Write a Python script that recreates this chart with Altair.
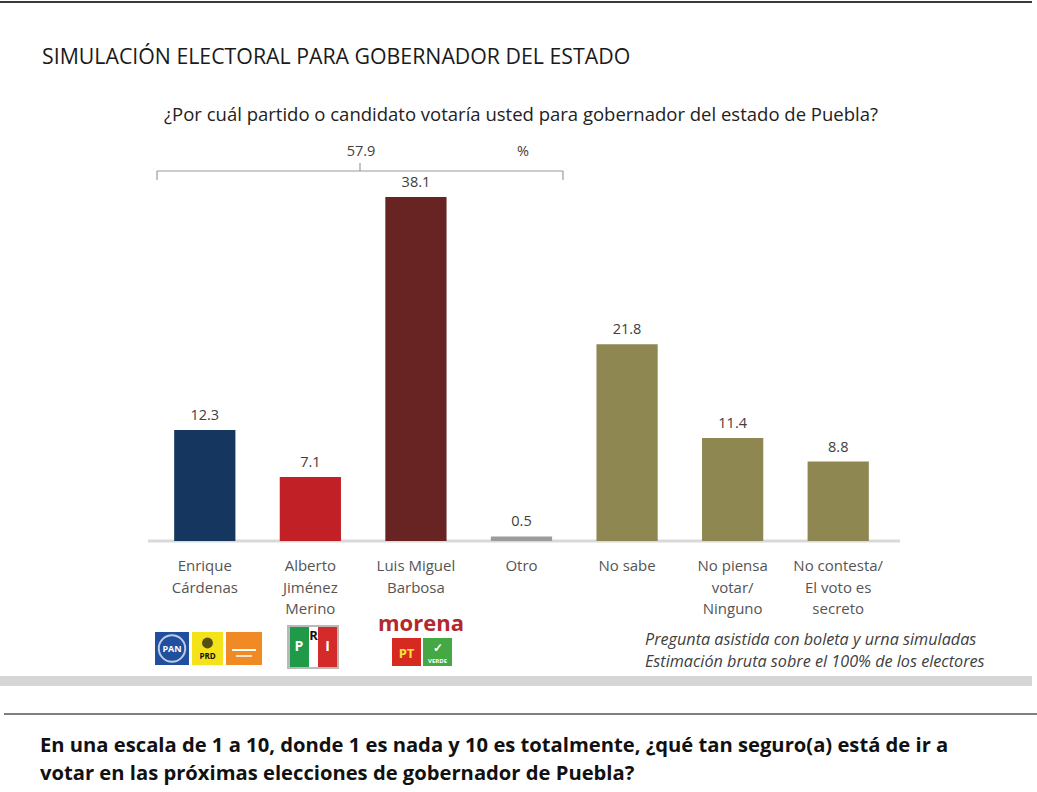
import altair as alt
import pandas as pd

# Vote intention for governor of Puebla (%)
categories = [
    "Enrique\nCárdenas",
    "Alberto\nJiménez\nMerino",
    "Luis Miguel\nBarbosa",
    "Otro",
    "No sabe",
    "No piensa\nvotar/\nNinguno",
    "No contesta/\nEl voto es\nsecreto",
]
values = [12.3, 7.1, 38.1, 0.5, 21.8, 11.4, 8.8]
bar_colors = ["#14365f", "#c12126", "#682323", "#9c9c9c", "#8e8751", "#8e8751", "#8e8751"]

bracket_total = "57.9"
title = "SIMULACIÓN ELECTORAL PARA GOBERNADOR DEL ESTADO"
question = "¿Por cuál partido o candidato votaría usted para gobernador del estado de Puebla?"
notes = ["Pregunta asistida con boleta y urna simuladas",
         "Estimación bruta sobre el 100% de los electores"]
next_question = ["En una escala de 1 a 10, donde 1 es nada y 10 es totalmente, ¿qué tan seguro(a) está de ir a",
                 "votar en las próximas elecciones de gobernador de Puebla?"]

FONT = "Open Sans"
W, H = 1037, 792

df = pd.DataFrame({"cat": categories, "val": values, "color": bar_colors})
one = pd.DataFrame({"k": [0]})

x_enc = alt.X("cat:N", sort=categories, axis=None,
              scale=alt.Scale(range=[152, 891], paddingInner=0.42, paddingOuter=0.21))
y_scale = alt.Scale(domain=[0, 40], range=[541, 541 - 40 * 9.03])

base = alt.Chart(df)

bars = base.mark_bar().encode(
    x=x_enc,
    y=alt.Y("val:Q", scale=y_scale, axis=None),
    color=alt.Color("color:N", scale=None),
)

value_labels = base.mark_text(font=FONT, fontSize=14.5, color="#404040", baseline="bottom", dy=-7).encode(
    x=x_enc,
    y=alt.Y("val:Q", scale=y_scale),
    text=alt.Text("val:Q", format=".1f"),
)

cat_labels = base.mark_text(font=FONT, fontSize=15, color="#555555", baseline="top",
                            lineBreak="\n", lineHeight=21.5).encode(
    x=x_enc,
    y=alt.value(559),
    text="cat:N",
)


def rule(x1, x2, y1, y2, color, width):
    return alt.Chart(one).mark_rule(color=color, strokeWidth=width).encode(
        x=alt.value(x1), x2=alt.value(x2), y=alt.value(y1), y2=alt.value(y2))


def rect(x1, x2, y1, y2, color, **kw):
    return alt.Chart(one).mark_rect(color=color, **kw).encode(
        x=alt.value(x1), x2=alt.value(x2), y=alt.value(y1), y2=alt.value(y2))


def label(txt, x, y, size, color="#222222", align="left", weight="normal", style="normal", font=FONT):
    return alt.Chart(one).mark_text(font=font, fontSize=size, color=color, align=align,
                                    baseline="middle", fontWeight=weight, fontStyle=style).encode(
        x=alt.value(x), y=alt.value(y), text=alt.value(txt))


layers = [
    # frame lines and separators
    rule(0, 1032, 2, 2, "#3a3a3a", 2),
    rect(0, 1032, 676, 686, "#d6d6d6"),
    rule(4, 1037, 714, 714, "#555555", 1.5),
    # baseline
    rule(148, 900, 541, 541, "#d9d9d9", 3),
    # headings
    label(title, 42, 58, 21.3, "#1a1a1a"),
    label(question, 521, 115, 18.5, "#222222", align="center"),
    # bracket over candidates
    rule(157, 563, 171, 171, "#9a9a9a", 1.2),
    rule(157, 157, 171, 180, "#9a9a9a", 1.2),
    rule(563, 563, 171, 180, "#9a9a9a", 1.2),
    rule(360, 360, 163, 171, "#9a9a9a", 1.2),
    label(bracket_total, 361, 152, 14.5, "#404040", align="center"),
    label("%", 523, 152, 14.5, "#404040", align="center"),
    bars, value_labels, cat_labels,
    # party emblems: PAN, PRD, MC
    rect(155, 189, 632, 665, "#1f4f9e"),
    alt.Chart(one).mark_point(shape="circle", size=700, stroke="white", strokeWidth=2, filled=False).encode(
        x=alt.value(172), y=alt.value(648.5)),
    label("PAN", 172, 649, 9, "white", align="center", weight="bold"),
    rect(192, 223, 632, 665, "#f4e21b"),
    alt.Chart(one).mark_point(shape="circle", size=120, color="#111111", filled=True).encode(
        x=alt.value(207.5), y=alt.value(643)),
    label("PRD", 207.5, 657, 8, "#111111", align="center", weight="bold"),
    rect(226, 262, 632, 665, "#f08a24"),
    rule(232, 256, 650, 650, "white", 2),
    rule(236, 252, 656, 656, "white", 1.5),
    # PRI
    rect(287, 339, 625, 669, "#b9b9b9"),
    rect(290, 309, 627, 667, "#1e9a48"),
    rect(309, 318, 627, 667, "white"),
    rect(318, 337, 627, 667, "#d42a2a"),
    label("P", 299, 647, 14, "white", align="center", weight="bold"),
    label("R", 313.5, 636, 13, "#111111", align="center", weight="bold"),
    label("I", 327.5, 647, 14, "white", align="center", weight="bold"),
    # Morena, PT, Verde
    label("morena", 421, 624, 22, "#b2282d", align="center", weight="bold"),
    rect(392, 421, 638, 666, "#d62a20"),
    label("PT", 406.5, 654, 13, "#ffe23a", align="center", weight="bold"),
    rect(423, 452, 638, 666, "#44a845"),
    label("✓", 437.5, 648, 12, "white", align="center", weight="bold"),
    label("VERDE", 437.5, 661, 6, "white", align="center", weight="bold"),
    # footnotes
    label(notes[0], 645, 640, 16.2, "#404040", style="italic"),
    label(notes[1], 645, 662, 16.2, "#404040", style="italic"),
    # next question
    label(next_question[0], 40, 746, 20.2, "#111111", weight="bold"),
    label(next_question[1], 40, 774, 20.2, "#111111", weight="bold"),
]

chart = alt.layer(*layers).properties(
    width=W, height=H, autosize="none", padding=0, background="white"
).configure_view(strokeWidth=0)

chart.save("out.html", embed_options={"renderer": "svg", "actions": False})
